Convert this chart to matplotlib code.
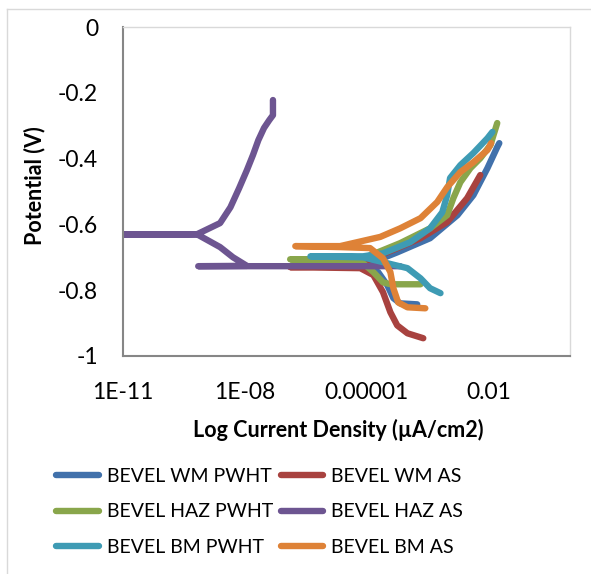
import numpy as np
import matplotlib
matplotlib.use("Agg")
import matplotlib.pyplot as plt
from matplotlib.lines import Line2D
from matplotlib.ticker import FixedLocator, NullLocator

plt.rcParams["font.family"] = ["Lato", "DejaVu Sans"]

# polarisation curves: current density (log axis) and potential (V)
wm_pwht_i = [1.74e-4, 6.6e-5, 4.5e-5, 3.2e-5, 1.9e-5, 9.1e-6, 2.3e-7, 9.1e-6,
             5.6e-5, 3.6e-4, 1.7e-3, 4.2e-3, 9.3e-3, 1.62e-2, 1.82e-2]
wm_pwht_e = [-0.843, -0.840, -0.824, -0.785, -0.745, -0.730, -0.727, -0.724,
             -0.685, -0.642, -0.572, -0.511, -0.429, -0.365, -0.353]

wm_as_i = [2.45e-4, 1.0e-4, 5.6e-5, 3.8e-5, 2.5e-5, 1.45e-5, 6.9e-6, 1.3e-7,
           4.7e-6, 6.6e-5, 2.1e-4, 9.5e-4, 2.95e-3, 6.2e-3]
wm_as_e = [-0.946, -0.931, -0.907, -0.867, -0.806, -0.754, -0.733, -0.730,
           -0.727, -0.669, -0.642, -0.593, -0.520, -0.450]

haz_pwht_i = [2.1e-4, 3.8e-5, 2.5e-5, 1.45e-5, 8.1e-6, 1.26e-6, 1.3e-7, 1.26e-6,
              8.1e-6, 6.6e-5, 3.6e-4, 9.5e-4, 1.35e-3, 2.0e-3, 3.55e-3,
              6.2e-3, 1.1e-2, 1.62e-2]
haz_pwht_e = [-0.782, -0.782, -0.776, -0.745, -0.718, -0.709, -0.706, -0.706,
              -0.703, -0.657, -0.612, -0.572, -0.520, -0.472, -0.429,
              -0.399, -0.359, -0.292]

haz_as_i = [6.6e-5, 7.1e-10, 1.12e-8, 5.1e-9, 2.45e-9, 6.6e-10, 8.0e-12,
            6.6e-10, 2.45e-9, 4.4e-9, 7.2e-9, 1.12e-8, 1.58e-8, 2.14e-8,
            2.95e-8, 3.98e-8, 4.9e-8, 4.9e-8]
haz_as_e = [-0.727, -0.727, -0.726, -0.700, -0.669, -0.630, -0.631,
            -0.630, -0.596, -0.548, -0.490, -0.435, -0.389, -0.344,
            -0.307, -0.283, -0.268, -0.222]

bm_pwht_i = [6.5e-4, 3.6e-4, 2.1e-4, 1.0e-4, 3.2e-5, 8.1e-6, 4.1e-7, 8.1e-6,
             2.5e-5, 1.17e-4, 3.6e-4, 7.2e-4, 9.5e-4, 1.12e-3, 2.0e-3,
             4.2e-3, 9.3e-3, 1.23e-2]
bm_pwht_e = [-0.809, -0.794, -0.764, -0.733, -0.718, -0.700, -0.697, -0.697,
             -0.688, -0.654, -0.612, -0.563, -0.511, -0.459, -0.420,
             -0.383, -0.338, -0.319]

bm_as_i = [2.75e-4, 1.0e-4, 5.9e-5, 4.5e-5, 3.8e-5, 2.5e-5, 1.2e-5, 2.2e-6,
           1.74e-7, 2.2e-6, 2.14e-5, 6.6e-5, 2.1e-4, 5.4e-4, 9.5e-4,
           2.0e-3, 4.2e-3, 9.3e-3, 1.15e-2]
bm_as_e = [-0.855, -0.852, -0.837, -0.794, -0.745, -0.703, -0.672, -0.669,
           -0.666, -0.666, -0.638, -0.612, -0.581, -0.532, -0.487,
           -0.441, -0.411, -0.374, -0.353]

series = [
    ("BEVEL WM PWHT", wm_pwht_i, wm_pwht_e, "#4171AB"),
    ("BEVEL WM AS", wm_as_i, wm_as_e, "#A8423F"),
    ("BEVEL HAZ PWHT", haz_pwht_i, haz_pwht_e, "#89A64B"),
    ("BEVEL HAZ AS", haz_as_i, haz_as_e, "#6D5591"),
    ("BEVEL BM PWHT", bm_pwht_i, bm_pwht_e, "#3E9BB4"),
    ("BEVEL BM AS", bm_as_i, bm_as_e, "#DE8237"),
]

x_ticks = [1e-11, 1e-8, 1e-5, 1e-2]
x_tick_labels = ["1E-11", "1E-08", "0.00001", "0.01"]
y_ticks = [0, -0.2, -0.4, -0.6, -0.8, -1]
y_tick_labels = ["0", "-0.2", "-0.4", "-0.6", "-0.8", "-1"]

W, H = 591, 574
fig = plt.figure(figsize=(W / 100, H / 100), dpi=100)
ax = fig.add_axes([123 / W, 1 - 356 / H, (570 - 123) / W, (356 - 27) / H])

# outer chart frame (cut off at the right and bottom)
fig.add_artist(Line2D([7 / W, 7 / W], [1 - 9 / H, 0], color="#D9D9D9", lw=1))
fig.add_artist(Line2D([7 / W, 1], [1 - 9 / H, 1 - 9 / H], color="#D9D9D9", lw=1))

lines = []
for name, xi, ye, col in series:
    ln, = ax.plot(xi, ye, color=col, lw=4.6, solid_capstyle="round",
                  solid_joinstyle="round", label=name)
    lines.append(ln)

ax.set_xscale("log")
ax.set_xlim(1e-11, 1)
ax.set_ylim(-1, 0)
ax.xaxis.set_major_locator(FixedLocator(x_ticks))
ax.xaxis.set_minor_locator(NullLocator())
ax.set_xticklabels(x_tick_labels)
ax.set_yticks(y_ticks)
ax.set_yticklabels(y_tick_labels)
ax.tick_params(length=0, labelsize=16.5)
ax.tick_params(axis="y", pad=18)
ax.tick_params(axis="x", pad=19)

for s in ["left", "bottom"]:
    ax.spines[s].set_color("#868686")
    ax.spines[s].set_linewidth(1.5)
for s in ["top", "right"]:
    ax.spines[s].set_color("#D9D9D9")
    ax.spines[s].set_linewidth(1)

fig.text(338 / W, 1 - 430 / H, "Log Current Density (µA/cm2)", ha="center",
         va="center", fontsize=15.5, fontweight="bold")
fig.text(35 / W, 1 - 186 / H, "Potential (V)", ha="center", va="center",
         rotation=90, fontsize=15.5, fontweight="bold")

# legend is filled row by row in the reference
order = [0, 2, 4, 1, 3, 5]
fig.legend([lines[k] for k in order], [series[k][0] for k in order],
           loc="upper left", bbox_to_anchor=(56 / W, 1 - 468 / H), ncol=2,
           frameon=False, fontsize=14, handlelength=2.2, handletextpad=0.4,
           columnspacing=0.4, labelspacing=0.95, borderaxespad=0, borderpad=0)

fig.savefig("out.png", dpi=100)
